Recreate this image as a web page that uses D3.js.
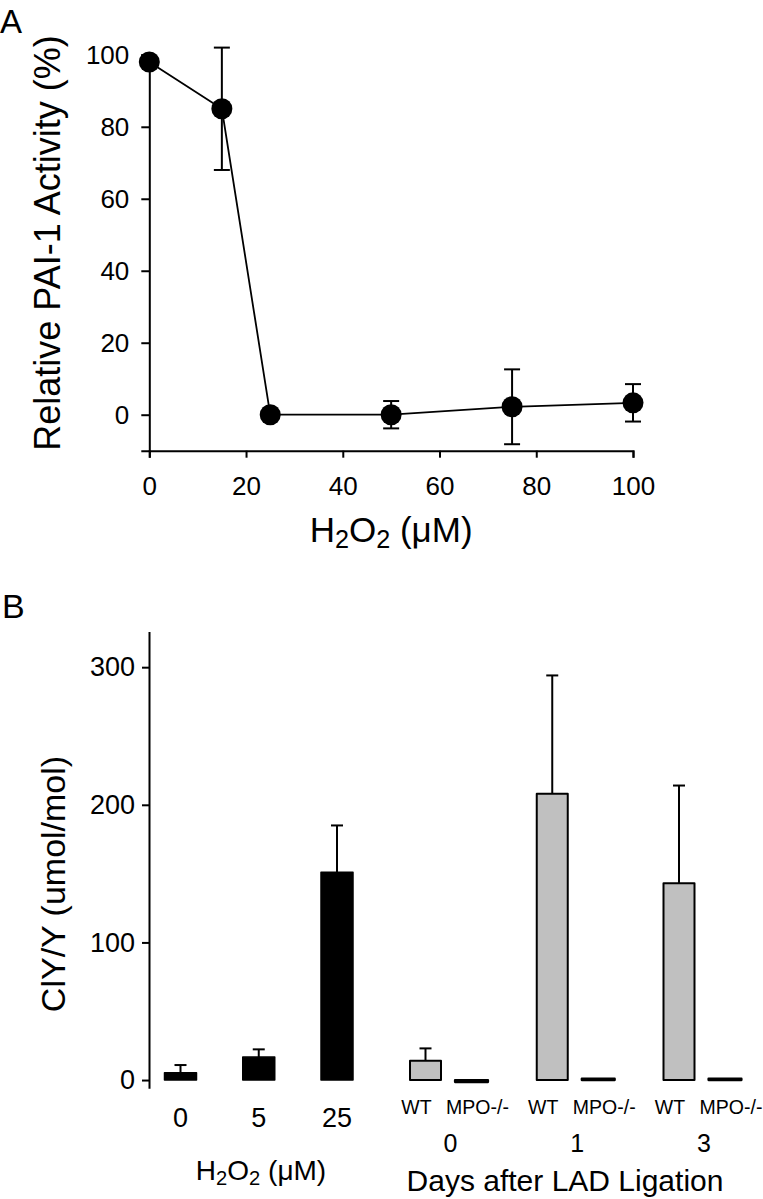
<!DOCTYPE html>
<html><head><meta charset="utf-8">
<script src="https://cdn.jsdelivr.net/npm/d3@7"></script>
<style>
body{margin:0;background:#fff}
svg{display:block}
text{font-family:"Liberation Sans", Arial, Helvetica, sans-serif; fill:#000}
</style>
</head><body>
<svg id="c" width="763" height="1199"></svg>
<script>
// ---------- Panel A data ----------
const h2o2Dose = [0, 15, 25, 50, 75, 100];
const paiActivity = [98, 85, 0, 0, 2.2, 3.3];
const paiError = [0, 17, 0, 3.8, 10.4, 5.2];
const xTicksA = [0, 20, 40, 60, 80, 100];
const yTicksA = [0, 20, 40, 60, 80, 100];

// ---------- Panel B data ----------
const h2o2Cats = ["0", "5", "25"];
const clyH2o2 = [5.3, 16.7, 151];
const clyH2o2Err = [10.9, 22.3, 185];
const dayCats = ["0", "1", "3"];
const genotypes = ["WT", "MPO-/-"];
const clyWT = [14, 208, 143];
const clyWTErr = [23, 294, 214];
const clyMPO = [-1.5, 1.0, 1.0];
const yTicksB = [0, 100, 200, 300];

const svg = d3.select("#c");

function styleAxis(g, fs) {
  g.attr("font-size", fs).attr("font-family", null);
  g.selectAll("path.domain").attr("stroke", "#000").attr("stroke-width", 2);
  g.selectAll(".tick line").attr("stroke", "#000").attr("stroke-width", 2);
  g.selectAll(".tick text").attr("fill", "#000");
}

function h2o2Label(x, y, fs) {
  const t = svg.append("text").attr("x", x).attr("y", y).attr("text-anchor", "middle").attr("font-size", fs);
  const sub = fs * 0.72, off = fs * 0.18;
  t.append("tspan").text("H");
  t.append("tspan").attr("font-size", sub).attr("dy", off).text("2");
  t.append("tspan").attr("dy", -off).text("O");
  t.append("tspan").attr("font-size", sub).attr("dy", off).text("2");
  t.append("tspan").attr("dy", -off).text(" (\u03BCM)");
}

// ================= Panel A =================
const xA = d3.scaleLinear([0, 100], [149.3, 633]);
const yA = d3.scaleLinear([-10, 100], [450.7, 54.8]);

svg.append("g").attr("transform", `translate(0,${yA(-10)})`)
  .call(d3.axisBottom(xA).tickValues(xTicksA).tickSize(7).tickSizeOuter(7).tickPadding(19).tickFormat(d3.format("d")))
  .call(g => styleAxis(g, 26));
svg.append("g").attr("transform", `translate(${xA(0)},0)`)
  .call(d3.axisLeft(yA).tickValues(yTicksA).tickSize(8).tickSizeOuter(8).tickPadding(12).tickFormat(d3.format("d")))
  .call(g => styleAxis(g, 26));

const ptsA = h2o2Dose.map((d, i) => ({x: d, y: paiActivity[i], e: paiError[i]}));

// error bars
const eb = svg.append("g").attr("stroke", "#000").attr("stroke-width", 2).attr("fill", "none");
ptsA.filter(p => p.e > 0).forEach(p => {
  const cx = xA(p.x);
  eb.append("line").attr("x1", cx).attr("x2", cx).attr("y1", yA(p.y + p.e)).attr("y2", yA(p.y - p.e));
  [p.y + p.e, p.y - p.e].forEach(v => {
    eb.append("line").attr("x1", cx - 8).attr("x2", cx + 8).attr("y1", yA(v)).attr("y2", yA(v));
  });
});

svg.append("path").datum(ptsA)
  .attr("fill", "none").attr("stroke", "#000").attr("stroke-width", 1.8)
  .attr("d", d3.line().x(p => xA(p.x)).y(p => yA(p.y)));

svg.append("g").selectAll("circle").data(ptsA).join("circle")
  .attr("cx", p => xA(p.x)).attr("cy", p => yA(p.y)).attr("r", 10.5).attr("fill", "#000");

svg.append("text").attr("transform", "translate(60,243) rotate(-90)")
  .attr("text-anchor", "middle").attr("font-size", 36).text("Relative PAI-1 Activity (%)");

h2o2Label((xA(0) + xA(100)) / 2, 542, 35);

svg.append("text").attr("x", 0).attr("y", 33).attr("font-size", 33).text("A");

// ================= Panel B =================
svg.append("text").attr("x", 2).attr("y", 618).attr("font-size", 34).text("B");

const yB = d3.scaleLinear([-6, 326], [1088.3, 631.4]);
svg.append("g").attr("transform", "translate(149,0)")
  .call(d3.axisLeft(yB).tickValues(yTicksB).tickSize(7).tickSizeOuter(0).tickPadding(7).tickFormat(d3.format("d")))
  .call(g => styleAxis(g, 27));

svg.append("text").attr("transform", "translate(65,884) rotate(-90)")
  .attr("text-anchor", "middle").attr("font-size", 34).text("ClY/Y (umol/mol)");

function drawBar(cx, w, v, err, fill, sw) {
  const y0 = yB(0), yv = yB(v);
  svg.append("rect").attr("x", cx - w / 2).attr("width", w)
    .attr("y", Math.min(y0, yv)).attr("height", Math.abs(yv - y0))
    .attr("fill", fill).attr("stroke", "#000").attr("stroke-width", sw).attr("stroke-linejoin", "round");
  if (err != null) {
    svg.append("line").attr("x1", cx).attr("x2", cx).attr("y1", yv).attr("y2", yB(err))
      .attr("stroke", "#000").attr("stroke-width", 2);
    svg.append("line").attr("x1", cx - 6).attr("x2", cx + 6).attr("y1", yB(err)).attr("y2", yB(err))
      .attr("stroke", "#000").attr("stroke-width", 2);
  }
}

// left group: H2O2 doses
const xH = d3.scalePoint(h2o2Cats, [180.5, 337]);
h2o2Cats.forEach((c, i) => drawBar(xH(c), 32, clyH2o2[i], clyH2o2Err[i], "#000", 1.5));
svg.append("g").selectAll("text").data(h2o2Cats).join("text")
  .attr("x", c => xH(c)).attr("y", 1127).attr("text-anchor", "middle").attr("font-size", 27).text(c => c);
h2o2Label(261, 1180, 28);

// right group: days after LAD ligation
const xDay = d3.scalePoint(dayCats, [448.5, 702]);
const xGeno = d3.scalePoint(genotypes, [-23, 23]);
const xGenoLabel = d3.scalePoint(genotypes, [-32, 29]);
dayCats.forEach((d, i) => {
  drawBar(xDay(d) + xGeno("WT"), 31, clyWT[i], clyWTErr[i], "#c0c0c0", 2);
  drawBar(xDay(d) + xGeno("MPO-/-"), 33, clyMPO[i], null, "#c0c0c0", 2.2);
  genotypes.forEach(gn => {
    svg.append("text").attr("x", xDay(d) + xGenoLabel(gn)).attr("y", 1113.5)
      .attr("text-anchor", "middle").attr("font-size", 19.5).text(gn);
  });
  svg.append("text").attr("x", xDay(d) + 2).attr("y", 1152)
    .attr("text-anchor", "middle").attr("font-size", 25).text(d);
});
svg.append("text").attr("x", 565).attr("y", 1191).attr("text-anchor", "middle")
  .attr("font-size", 30).text("Days after LAD Ligation");
</script>
</body></html>
